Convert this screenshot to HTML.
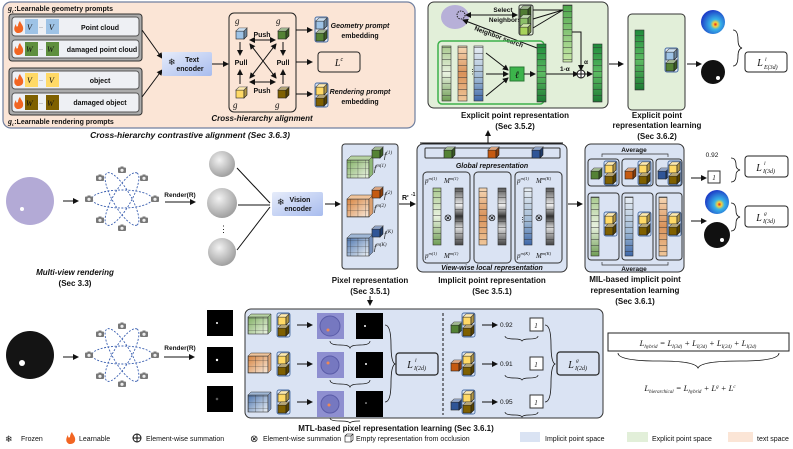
<!DOCTYPE html>
<html><head><meta charset="utf-8"><style>
html,body{margin:0;padding:0;background:#fff}
svg{display:block}
text{font-family:"Liberation Sans",sans-serif;fill:#111}
.b{font-weight:bold}
.c{text-anchor:middle}
.i{font-style:italic;font-family:"Liberation Serif",serif}
</style></head><body>
<svg width="793" height="449" viewBox="0 0 793 449" xmlns="http://www.w3.org/2000/svg">
<defs>
<marker id="ar" markerWidth="6" markerHeight="6" refX="5" refY="3" orient="auto"><path d="M0,0 L6,3 L0,6 Z" fill="#111"/></marker>
<marker id="ar2" markerWidth="6" markerHeight="6" refX="1" refY="3" orient="auto"><path d="M6,0 L0,3 L6,6 Z" fill="#111"/></marker>
<pattern id="seg" width="20" height="6" patternUnits="userSpaceOnUse"><line x1="0" y1="5.7" x2="20" y2="5.7" stroke="#333" stroke-width=".5"/></pattern>
<pattern id="grid" width="7.3" height="6" patternUnits="userSpaceOnUse"><path d="M0,0 V6 M0,0 H7.3" stroke="#333" stroke-width=".6" fill="none"/></pattern>
<linearGradient id="gG" x1="0" y1="0" x2="0" y2="1"><stop offset="0" stop-color="#a9c98f"/><stop offset=".5" stop-color="#e9f2e0"/><stop offset="1" stop-color="#6f9d55"/></linearGradient>
<linearGradient id="gDG" x1="0" y1="0" x2="0" y2="1"><stop offset="0" stop-color="#1e8a3a"/><stop offset=".5" stop-color="#5dbb63"/><stop offset="1" stop-color="#1c7a33"/></linearGradient>
<linearGradient id="gLG" x1="0" y1="0" x2="0" y2="1"><stop offset="0" stop-color="#4aa64a"/><stop offset="1" stop-color="#c9e8a8"/></linearGradient>
<linearGradient id="gO" x1="0" y1="0" x2="0" y2="1"><stop offset="0" stop-color="#f6d7b5"/><stop offset=".5" stop-color="#d9925a"/><stop offset="1" stop-color="#f0c79a"/></linearGradient>
<linearGradient id="gB" x1="0" y1="0" x2="0" y2="1"><stop offset="0" stop-color="#e8eef4"/><stop offset=".6" stop-color="#9db7d3"/><stop offset="1" stop-color="#3e67a8"/></linearGradient>
<linearGradient id="gK" x1="0" y1="0" x2="0" y2="1"><stop offset="0" stop-color="#555"/><stop offset=".3" stop-color="#eee"/><stop offset=".5" stop-color="#333"/><stop offset=".7" stop-color="#ddd"/><stop offset="1" stop-color="#444"/></linearGradient>
<linearGradient id="enc" x1="0" y1="0" x2="1" y2="1"><stop offset="0" stop-color="#e6ecfa"/><stop offset="1" stop-color="#a8bcee"/></linearGradient>
<linearGradient id="gridG" x1="0" y1="0" x2="1" y2="1"><stop offset="0" stop-color="#7fae62"/><stop offset="1" stop-color="#eef5e6"/></linearGradient>
<linearGradient id="gridO" x1="0" y1="0" x2="1" y2="1"><stop offset="0" stop-color="#d6833f"/><stop offset="1" stop-color="#f8eadc"/></linearGradient>
<linearGradient id="gridB" x1="0" y1="0" x2="1" y2="1"><stop offset="0" stop-color="#4c74ad"/><stop offset="1" stop-color="#eef2f6"/></linearGradient>
<radialGradient id="sph" cx=".4" cy=".35" r=".7"><stop offset="0" stop-color="#f2f2f2"/><stop offset="1" stop-color="#9a9a9a"/></radialGradient>
<radialGradient id="heat" cx=".6" cy=".6" r=".6"><stop offset="0" stop-color="#e02020"/><stop offset=".15" stop-color="#f7d23a"/><stop offset=".35" stop-color="#38b4e8"/><stop offset="1" stop-color="#1d3fc8"/></radialGradient>
<g id="cb"><rect x="0" y="3" width="8" height="8" stroke="#222" stroke-width=".6"/><polygon points="0,3 3,0 11,0 8,3" stroke="#222" stroke-width=".6"/><polygon points="8,3 11,0 11,8 8,11" stroke="#222" stroke-width=".6"/><polygon points="0,3 3,0 11,0 8,3" fill="#fff" fill-opacity=".45"/><polygon points="8,3 11,0 11,8 8,11" fill="#000" fill-opacity=".3"/></g>
<g id="flame"><path d="M3,12 C-1,10 0,6 2,3 C2,6 3,6 4,5 C4,3 5,1 6,0 C7,3 10,5 9,9 C8,12 5,12 3,12 Z" fill="#f26522"/></g>
<g id="cam"><rect x="-4" y="-2.5" width="8" height="5.5" rx="1" fill="#777"/><circle cx="0" cy="0.3" r="1.6" fill="#eee"/><rect x="-1.5" y="-3.5" width="3" height="1.5" fill="#777"/></g>
<g id="orb"><ellipse rx="30" ry="9" fill="none" stroke="#3a5fb0" stroke-dasharray="2,1.5" stroke-width=".9"/><ellipse rx="30" ry="9" transform="rotate(60)" fill="none" stroke="#3a5fb0" stroke-dasharray="2,1.5" stroke-width=".9"/><ellipse rx="30" ry="9" transform="rotate(-60)" fill="none" stroke="#3a5fb0" stroke-dasharray="2,1.5" stroke-width=".9"/>
<use href="#cam" x="0" y="-29"/><use href="#cam" x="0" y="29"/><use href="#cam" x="-33" y="0"/><use href="#cam" x="33" y="0"/><use href="#cam" x="-22" y="-21"/><use href="#cam" x="22" y="-21"/><use href="#cam" x="-22" y="21"/><use href="#cam" x="22" y="21"/></g>
<g id="pair"><rect x="0" y="0" width="13" height="24" rx="2" fill="#d9e3f3" stroke="#4a6fa5" stroke-width=".9"/><use href="#cb" x="1" y="1" fill="#ffd966"/><use href="#cb" x="1" y="12" fill="#7f6000"/></g>
</defs>

<!-- ================= TEXT SPACE PANEL ================= -->
<rect x="3" y="2" width="412" height="126" rx="8" fill="#fbe5d6" stroke="#6f7f9f" stroke-width="1.2"/>
<text x="8" y="11" font-size="7" class="b"><tspan class="i" font-size="8">g</tspan><tspan font-size="5" dy="2" class="i">c</tspan><tspan dy="-2">:Learnable geometry prompts</tspan></text>
<rect x="9" y="14" width="133" height="47" rx="3" fill="#ababab" stroke="#333"/>
<rect x="12" y="17" width="127" height="19" rx="3" fill="#eef0f4" stroke="#555"/>
<rect x="12" y="40" width="127" height="18" rx="3" fill="#eef0f4" stroke="#555"/>
<use href="#flame" x="14" y="21"/><use href="#flame" x="14" y="43"/>
<rect x="25" y="19" width="13" height="15" fill="#9ec3e6"/><rect x="46" y="19" width="13" height="15" fill="#9ec3e6"/>
<text x="27" y="30" class="i" font-size="8">V</text><text x="49" y="30" class="i" font-size="8">V</text><text x="39" y="29" font-size="6">··</text>
<text x="100" y="30" class="b c" font-size="7">Point cloud</text>
<rect x="25" y="42" width="13" height="14" fill="#5f8f3e"/><rect x="46" y="42" width="13" height="14" fill="#5f8f3e"/>
<text x="26" y="52" class="i" font-size="8">W</text><text x="47" y="52" class="i" font-size="8">W</text><text x="39" y="51" font-size="6">··</text>
<text x="102" y="52" class="b c" font-size="7">damaged point cloud</text>

<rect x="9" y="68" width="133" height="47" rx="3" fill="#ababab" stroke="#333"/>
<rect x="12" y="71" width="127" height="18" rx="3" fill="#eef0f4" stroke="#555"/>
<rect x="12" y="93" width="127" height="19" rx="3" fill="#eef0f4" stroke="#555"/>
<use href="#flame" x="14" y="74"/><use href="#flame" x="14" y="97"/>
<rect x="25" y="73" width="13" height="14" fill="#ffd966"/><rect x="46" y="73" width="13" height="14" fill="#ffd966"/>
<text x="27" y="83" class="i" font-size="8">V</text><text x="49" y="83" class="i" font-size="8">V</text><text x="39" y="82" font-size="6">··</text>
<text x="100" y="83" class="b c" font-size="7">object</text>
<rect x="25" y="95" width="13" height="15" fill="#7f6000"/><rect x="46" y="95" width="13" height="15" fill="#7f6000"/>
<text x="26" y="106" class="i" font-size="8">W</text><text x="47" y="106" class="i" font-size="8">W</text><text x="39" y="105" font-size="6">··</text>
<text x="100" y="105" class="b c" font-size="7">damaged object</text>
<text x="8" y="124" font-size="7" class="b"><tspan class="i" font-size="8">g</tspan><tspan font-size="5" dy="2" class="i">c</tspan><tspan dy="-2">:Learnable rendering prompts</tspan></text>

<line x1="142" y1="30" x2="162" y2="58" stroke="#111" marker-end="url(#ar)"/>
<line x1="142" y1="97" x2="162" y2="70" stroke="#111" marker-end="url(#ar)"/>
<rect x="162" y="52" width="50" height="24" rx="2" fill="url(#enc)"/>
<text x="168" y="65" font-size="9" fill="#2a8ad4">❄</text>
<text x="192" y="62" class="b c" font-size="7">Text</text><text x="190" y="71" class="b c" font-size="7">encoder</text>
<line x1="212" y1="64" x2="228" y2="64" stroke="#111" marker-end="url(#ar)"/>

<rect x="229" y="13" width="67" height="99" rx="5" fill="none" stroke="#222"/>
<text x="235" y="24" class="i" font-size="9">g</text><text x="276" y="24" class="i" font-size="9">g</text>
<use href="#cb" x="236" y="28" fill="#9ec3e6"/><use href="#cb" x="278" y="28" fill="#548235"/>
<line x1="250" y1="40" x2="275" y2="40" stroke="#111" marker-end="url(#ar)" marker-start="url(#ar2)"/>
<text x="262" y="37" class="b c" font-size="7">Push</text>
<line x1="240" y1="42" x2="240" y2="55" stroke="#111" marker-end="url(#ar)"/>
<line x1="283" y1="42" x2="283" y2="55" stroke="#111" marker-end="url(#ar)"/>
<text x="241" y="65" class="b c" font-size="7">Pull</text><text x="283" y="65" class="b c" font-size="7">Pull</text>
<line x1="250" y1="44" x2="276" y2="78" stroke="#111" marker-end="url(#ar)" marker-start="url(#ar2)"/>
<line x1="276" y1="44" x2="250" y2="78" stroke="#111" marker-end="url(#ar)" marker-start="url(#ar2)"/>
<line x1="240" y1="84" x2="240" y2="70" stroke="#111" marker-end="url(#ar)"/>
<line x1="283" y1="84" x2="283" y2="70" stroke="#111" marker-end="url(#ar)"/>
<line x1="250" y1="82" x2="275" y2="82" stroke="#111" marker-end="url(#ar)" marker-start="url(#ar2)"/>
<text x="262" y="93" class="b c" font-size="7">Push</text>
<use href="#cb" x="236" y="87" fill="#ffd966"/><use href="#cb" x="278" y="87" fill="#7f6000"/>
<text x="233" y="108" class="i" font-size="9">g</text><text x="275" y="108" class="i" font-size="9">g</text>
<text x="262" y="121" class="b c" font-size="8" font-style="italic">Cross-hierarchy alignment</text>

<line x1="296" y1="30" x2="312" y2="30" stroke="#111" marker-end="url(#ar)"/>
<line x1="296" y1="62" x2="312" y2="62" stroke="#111" marker-end="url(#ar)"/>
<line x1="296" y1="94" x2="312" y2="94" stroke="#111" marker-end="url(#ar)"/>
<rect x="315" y="17" width="13" height="25" rx="2" fill="#dfe7f4" stroke="#4a6fa5"/>
<use href="#cb" x="316" y="18" fill="#9ec3e6"/><use href="#cb" x="316" y="30" fill="#548235"/>
<text x="360" y="28" class="b c" font-size="7" font-style="italic">Geometry prompt</text><text x="360" y="38" class="b c" font-size="7">embedding</text>
<rect x="318" y="52" width="42" height="20" rx="3" fill="none" stroke="#222"/>
<text x="339" y="66" class="i c" font-size="10">L<tspan font-size="6" dy="-5">c</tspan></text>
<use href="#pair" x="315" y="83"/>
<text x="360" y="94" class="b c" font-size="7" font-style="italic">Rendering prompt</text><text x="360" y="104" class="b c" font-size="7">embedding</text>
<text x="190" y="138" class="b c" font-size="8.5" font-style="italic">Cross-hierarchy contrastive alignment (Sec 3.6.3)</text>

<!-- ================= EXPLICIT PANEL ================= -->
<rect x="428" y="2" width="180" height="106" rx="6" fill="#e2efd9" stroke="#333"/>
<ellipse cx="455" cy="17" rx="14" ry="12" fill="#b7b0d8"/>
<circle cx="461" cy="15" r="4" fill="none" stroke="#222" stroke-dasharray="1.5,1"/>
<line x1="466" y1="15" x2="517" y2="15" stroke="#111" marker-end="url(#ar)" marker-start="url(#ar2)"/>
<text x="503" y="12" class="b c" font-size="6.5">Select</text><text x="505" y="22" class="b c" font-size="6.5">Neighbors</text>
<rect x="519" y="5" width="14" height="30" rx="2" fill="#e2efd9" stroke="#333"/>
<use href="#cb" x="520" y="6" fill="#4f7c32"/><use href="#cb" x="520" y="15" fill="#8cc068"/><use href="#cb" x="520" y="24" fill="#a8d35a"/>
<path d="M533,10 L563,10 M533,19 L563,10 M533,28 L563,10" stroke="#111" fill="none"/>
<rect x="563" y="5" width="9" height="57" fill="url(#gLG)" stroke="#333" stroke-width=".6"/><rect x="563" y="5" width="9" height="57" fill="url(#seg)"/>
<text x="474" y="30" class="b" font-size="6.5" transform="rotate(20 474 30)">Neighbor search</text>
<line x1="537" y1="48" x2="463" y2="20" stroke="#111" marker-end="url(#ar)"/>
<rect x="438" y="41" width="106" height="63" rx="4" fill="none" stroke="#3cb04a" stroke-width="1.5"/>
<rect x="442" y="46" width="9" height="55" fill="url(#gG)" stroke="#333" stroke-width=".6"/><rect x="442" y="46" width="9" height="55" fill="url(#seg)"/>
<rect x="458" y="46" width="9" height="55" fill="url(#gO)" stroke="#333" stroke-width=".6"/><rect x="458" y="46" width="9" height="55" fill="url(#seg)"/>
<rect x="474" y="46" width="9" height="55" fill="url(#gB)" stroke="#333" stroke-width=".6"/><rect x="474" y="46" width="9" height="55" fill="url(#seg)"/>
<text x="469" y="74" font-size="7">⋮</text>
<line x1="486" y1="53" x2="508" y2="70" stroke="#111" marker-end="url(#ar)"/>
<line x1="486" y1="74" x2="508" y2="74" stroke="#111" marker-end="url(#ar)"/>
<line x1="486" y1="96" x2="508" y2="78" stroke="#111" marker-end="url(#ar)"/>
<rect x="510" y="67" width="14" height="14" fill="#3cb44b" stroke="#2a7a35"/>
<text x="517" y="78" class="i c" font-size="10">ℓ</text>
<line x1="524" y1="74" x2="535" y2="74" stroke="#111" marker-end="url(#ar)"/>
<rect x="537" y="44" width="9" height="58" fill="url(#gDG)" stroke="#333" stroke-width=".6"/><rect x="537" y="44" width="9" height="58" fill="url(#seg)"/>
<line x1="546" y1="74" x2="578" y2="74" stroke="#111" marker-end="url(#ar)"/>
<text x="560" y="71" class="b" font-size="6.5">1-α</text>
<path d="M572,32 H581 V70" stroke="#111" fill="none" marker-end="url(#ar)"/>
<text x="584" y="64" class="b" font-size="6.5">α</text>
<circle cx="581" cy="74" r="4" fill="#fff" stroke="#111"/><path d="M577,74 H585 M581,70 V78" stroke="#111"/>
<line x1="585" y1="74" x2="592" y2="74" stroke="#111" marker-end="url(#ar)"/>
<rect x="593" y="44" width="9" height="58" fill="url(#gDG)" stroke="#333" stroke-width=".6"/><rect x="593" y="44" width="9" height="58" fill="url(#seg)"/>
<text x="515" y="118" class="b c" font-size="8">Explicit point representation</text>
<text x="515" y="129" class="b c" font-size="8">(Sec 3.5.2)</text>
<line x1="488" y1="143" x2="488" y2="131" stroke="#111" marker-end="url(#ar)"/>
<line x1="420" y1="143" x2="563" y2="143" stroke="#111"/>

<line x1="609" y1="64" x2="623" y2="64" stroke="#111" marker-end="url(#ar)"/>
<rect x="628" y="14" width="57" height="96" rx="4" fill="#e2efd9" stroke="#333"/>
<rect x="635" y="30" width="9" height="60" fill="url(#gDG)" stroke="#333" stroke-width=".6"/><rect x="635" y="30" width="9" height="60" fill="url(#seg)"/>
<rect x="665" y="48" width="13" height="24" rx="2" fill="#dfe7f4" stroke="#4a6fa5"/>
<use href="#cb" x="666" y="49" fill="#9ec3e6"/><use href="#cb" x="666" y="60" fill="#548235"/>
<text x="657" y="118" class="b c" font-size="8">Explicit point</text>
<text x="657" y="128" class="b c" font-size="8">representation learning</text>
<text x="657" y="139" class="b c" font-size="8">(Sec 3.6.2)</text>
<line x1="687" y1="64" x2="701" y2="64" stroke="#111" marker-end="url(#ar)"/>
<circle cx="713" cy="22" r="12" fill="url(#heat)"/>
<circle cx="713" cy="72" r="12" fill="#111"/><circle cx="718" cy="78" r="2" fill="#fff"/>
<path d="M733,30 Q738,30 738,40 Q738,47 742,48 Q738,49 738,56 Q738,66 733,66" fill="none" stroke="#111" stroke-width=".8"/>
<rect x="745" y="52" width="42" height="20" rx="3" fill="#fff" stroke="#222"/>
<text x="760" y="66" class="i c" font-size="10">L</text><text x="765" y="61" class="i" font-size="5.5">l</text><text x="764" y="69" class="i" font-size="6">E(3d)</text>

<!-- ================= MIDDLE ROW ================= -->
<circle cx="30" cy="201" r="24" fill="#b3aad6"/><circle cx="22" cy="209" r="2" fill="#fff"/>
<line x1="63" y1="201" x2="78" y2="201" stroke="#111" marker-end="url(#ar)"/>
<use href="#orb" x="122" y="199"/>
<line x1="165" y1="202" x2="195" y2="202" stroke="#111" marker-end="url(#ar)"/>
<text x="180" y="197" class="b c" font-size="6.5">Render(R)</text>
<circle cx="222" cy="164" r="13" fill="url(#sph)"/>
<circle cx="222" cy="203" r="15" fill="url(#sph)"/>
<text x="219" y="232" font-size="9">⋮</text>
<circle cx="222" cy="252" r="14" fill="url(#sph)"/>
<line x1="237" y1="168" x2="270" y2="203" stroke="#111"/>
<line x1="238" y1="205" x2="270" y2="205" stroke="#111"/>
<line x1="237" y1="250" x2="270" y2="207" stroke="#111"/>
<rect x="272" y="192" width="51" height="24" rx="2" fill="url(#enc)"/>
<text x="277" y="205" font-size="9" fill="#2a8ad4">❄</text>
<text x="300" y="202" class="b c" font-size="7">Vision</text><text x="298" y="211" class="b c" font-size="7">encoder</text>
<line x1="325" y1="204" x2="340" y2="204" stroke="#111" marker-end="url(#ar)"/>
<text x="75" y="275" class="b c" font-size="8" font-style="italic">Multi-view rendering</text>
<text x="75" y="286" class="b c" font-size="8">(Sec 3.3)</text>

<rect x="342" y="144" width="56" height="125" rx="3" fill="#dae3f3" stroke="#333"/>
<rect x="347" y="160" width="22" height="18" fill="url(#gridG)" stroke="#333" stroke-width=".6"/><rect x="347" y="160" width="22" height="18" fill="url(#grid)"/><polygon points="347,160 351,156 373,156 369,160" fill="#b7d3a3" stroke="#333" stroke-width=".5"/><polygon points="369,160 373,156 373,174 369,178" fill="#8fb878" stroke="#333" stroke-width=".5"/>
<rect x="347" y="199" width="22" height="18" fill="url(#gridO)" stroke="#333" stroke-width=".6"/><rect x="347" y="199" width="22" height="18" fill="url(#grid)"/><polygon points="347,199 351,195 373,195 369,199" fill="#f0c49b" stroke="#333" stroke-width=".5"/><polygon points="369,199 373,195 373,213 369,217" fill="#dba070" stroke="#333" stroke-width=".5"/>
<rect x="347" y="238" width="22" height="18" fill="url(#gridB)" stroke="#333" stroke-width=".6"/><rect x="347" y="238" width="22" height="18" fill="url(#grid)"/><polygon points="347,238 351,234 373,234 369,238" fill="#9fb7d6" stroke="#333" stroke-width=".5"/><polygon points="369,238 373,234 373,252 369,256" fill="#7993bd" stroke="#333" stroke-width=".5"/>
<use href="#cb" x="372" y="147" fill="#548235"/><use href="#cb" x="372" y="187" fill="#c55a11"/><use href="#cb" x="372" y="226" fill="#2f5597"/>
<text x="384" y="158" class="i" font-size="8">f<tspan font-size="5" dy="-4">(1)</tspan></text>
<text x="374" y="171" class="i" font-size="8">f<tspan font-size="5" dy="-4">m(1)</tspan></text>
<text x="384" y="198" class="i" font-size="8">f<tspan font-size="5" dy="-4">(2)</tspan></text>
<text x="374" y="211" class="i" font-size="8">f<tspan font-size="5" dy="-4">m(2)</tspan></text>
<text x="384" y="237" class="i" font-size="8">f<tspan font-size="5" dy="-4">(K)</tspan></text>
<text x="374" y="250" class="i" font-size="8">f<tspan font-size="5" dy="-4">m(K)</tspan></text>
<text x="402" y="200" class="b" font-size="7">R'</text><text x="411" y="196" class="b" font-size="5">-1</text>
<line x1="399" y1="204" x2="415" y2="204" stroke="#111" marker-end="url(#ar)"/>
<text x="370" y="283" class="b c" font-size="8">Pixel representation</text>
<text x="370" y="294" class="b c" font-size="8">(Sec 3.5.1)</text>
<line x1="370" y1="296" x2="370" y2="305" stroke="#111" marker-end="url(#ar)"/>

<rect x="417" y="144" width="150" height="128" rx="6" fill="#dae3f3" stroke="#333"/>
<rect x="425" y="148" width="135" height="10" rx="1" fill="#dae3f3" stroke="#333"/>
<use href="#cb" x="444" y="147" fill="#548235"/><use href="#cb" x="488" y="147" fill="#c55a11"/><use href="#cb" x="532" y="147" fill="#2f5597"/>
<text x="492" y="168" class="b c" font-size="7" font-style="italic">Global representation</text>
<rect x="423" y="172" width="47" height="91" rx="4" fill="none" stroke="#333"/>
<rect x="474" y="172" width="37" height="91" rx="4" fill="none" stroke="#333"/>
<rect x="515" y="172" width="47" height="91" rx="4" fill="none" stroke="#333"/>
<rect x="433" y="188" width="8" height="57" fill="url(#gG)" stroke="#333" stroke-width=".6"/><rect x="433" y="188" width="8" height="57" fill="url(#seg)"/>
<rect x="455" y="188" width="8" height="57" fill="url(#gK)" stroke="#333" stroke-width=".6"/><rect x="455" y="188" width="8" height="57" fill="url(#seg)"/>
<rect x="479" y="188" width="8" height="57" fill="url(#gO)" stroke="#333" stroke-width=".6"/><rect x="479" y="188" width="8" height="57" fill="url(#seg)"/>
<rect x="498" y="188" width="8" height="57" fill="url(#gK)" stroke="#333" stroke-width=".6"/><rect x="498" y="188" width="8" height="57" fill="url(#seg)"/>
<rect x="524" y="188" width="8" height="57" fill="url(#gB)" stroke="#333" stroke-width=".6"/><rect x="524" y="188" width="8" height="57" fill="url(#seg)"/>
<rect x="546" y="188" width="8" height="57" fill="url(#gK)" stroke="#333" stroke-width=".6"/><rect x="546" y="188" width="8" height="57" fill="url(#seg)"/>
<text x="448" y="221" class="c" font-size="10">⊗</text><text x="492" y="221" class="c" font-size="10">⊗</text><text x="539" y="221" class="c" font-size="10">⊗</text>
<text x="519" y="222" font-size="7">⋮</text>
<text x="425" y="183" class="i" font-size="7">p<tspan font-size="4.5" dy="-3">m(1)</tspan></text><text x="444" y="183" class="i" font-size="7">M<tspan font-size="4.5" dy="-3">m(1)</tspan></text>
<text x="425" y="258" class="i" font-size="7">p<tspan font-size="4.5" dy="-3">m(1)</tspan></text><text x="444" y="258" class="i" font-size="7">M<tspan font-size="4.5" dy="-3">m(1)</tspan></text>
<text x="517" y="183" class="i" font-size="7">p<tspan font-size="4.5" dy="-3">m(1)</tspan></text><text x="536" y="183" class="i" font-size="7">M<tspan font-size="4.5" dy="-3">m(K)</tspan></text>
<text x="517" y="258" class="i" font-size="7">p<tspan font-size="4.5" dy="-3">m(K)</tspan></text><text x="536" y="258" class="i" font-size="7">M<tspan font-size="4.5" dy="-3">m(K)</tspan></text>
<text x="492" y="270" class="b c" font-size="7" font-style="italic">View-wise local representation</text>
<text x="492" y="283" class="b c" font-size="8">Implicit point representation</text>
<text x="492" y="294" class="b c" font-size="8">(Sec 3.5.1)</text>
<line x1="568" y1="204" x2="582" y2="204" stroke="#111" marker-end="url(#ar)"/>

<rect x="585" y="144" width="99" height="128" rx="6" fill="#dae3f3" stroke="#333"/>
<text x="634" y="152" class="b c" font-size="6.5">Average</text>
<path d="M602,157 V154 H668 V157" fill="none" stroke="#333" stroke-width=".7"/>
<rect x="588" y="159" width="31" height="27" rx="3" fill="none" stroke="#333"/>
<rect x="622" y="159" width="31" height="27" rx="3" fill="none" stroke="#333"/>
<rect x="656" y="159" width="26" height="27" rx="3" fill="none" stroke="#333"/>
<use href="#cb" x="591" y="168" fill="#548235"/><use href="#cb" x="625" y="168" fill="#c55a11"/><use href="#cb" x="658" y="168" fill="#2f5597"/>
<use href="#pair" x="604" y="161"/><use href="#pair" x="638" y="161"/><use href="#pair" x="668" y="161"/>
<rect x="588" y="193" width="31" height="67" rx="3" fill="none" stroke="#333"/>
<rect x="622" y="193" width="31" height="67" rx="3" fill="none" stroke="#333"/>
<rect x="656" y="193" width="26" height="67" rx="3" fill="none" stroke="#333"/>
<rect x="591" y="197" width="8" height="59" fill="url(#gG)" stroke="#333" stroke-width=".6"/><rect x="591" y="197" width="8" height="59" fill="url(#seg)"/>
<rect x="625" y="197" width="8" height="59" fill="url(#gB)" stroke="#333" stroke-width=".6"/><rect x="625" y="197" width="8" height="59" fill="url(#seg)"/>
<rect x="659" y="197" width="8" height="59" fill="url(#gO)" stroke="#333" stroke-width=".6"/><rect x="659" y="197" width="8" height="59" fill="url(#seg)"/>
<use href="#pair" x="604" y="212"/><use href="#pair" x="638" y="212"/><use href="#pair" x="668" y="212"/>
<path d="M602,262 V265 H668 V262" fill="none" stroke="#333" stroke-width=".7"/>
<text x="634" y="271" class="b c" font-size="6.5">Average</text>
<text x="635" y="282" class="b c" font-size="8">MIL-based implicit point</text>
<text x="635" y="293" class="b c" font-size="8">representation learning</text>
<text x="635" y="304" class="b c" font-size="8">(Sec 3.6.1)</text>

<text x="712" y="157" class="c" font-size="6.5" fill="#666">0.92</text>
<line x1="691" y1="178" x2="706" y2="178" stroke="#111" marker-end="url(#ar)"/>
<rect x="708" y="171" width="12" height="12" fill="#fff" stroke="#333"/><text x="714" y="180" class="c i" font-size="7">1</text>
<path d="M731,158 Q736,158 736,165 Q736,169 740,170 Q736,171 736,175 Q736,182 731,182" fill="none" stroke="#111" stroke-width=".8"/>
<rect x="745" y="156" width="43" height="21" rx="3" fill="#fff" stroke="#222"/>
<text x="759" y="171" class="i c" font-size="10">L</text><text x="764" y="165" class="i" font-size="5.5">l</text><text x="763" y="173" class="i" font-size="6">I(3d)</text>
<circle cx="717" cy="202" r="12" fill="url(#heat)"/>
<circle cx="717" cy="235" r="13" fill="#111"/><circle cx="722" cy="240" r="2" fill="#fff"/>
<line x1="691" y1="221" x2="706" y2="221" stroke="#111" marker-end="url(#ar)"/>
<path d="M731,203 Q736,203 736,211 Q736,216 740,217 Q736,218 736,223 Q736,231 731,231" fill="none" stroke="#111" stroke-width=".8"/>
<rect x="745" y="206" width="43" height="21" rx="3" fill="#fff" stroke="#222"/>
<text x="759" y="221" class="i c" font-size="10">L</text><text x="764" y="215" class="i" font-size="5.5">g</text><text x="763" y="223" class="i" font-size="6">I(3d)</text>

<!-- ================= BOTTOM ROW ================= -->
<circle cx="30" cy="355" r="24" fill="#141414"/><circle cx="22" cy="363" r="3" fill="#fff"/>
<line x1="63" y1="357" x2="78" y2="357" stroke="#111" marker-end="url(#ar)"/>
<use href="#orb" x="122" y="355"/>
<line x1="164" y1="357" x2="194" y2="357" stroke="#111" marker-end="url(#ar)"/>
<text x="180" y="350" class="b c" font-size="6.5">Render(R)</text>
<rect x="207" y="310" width="26" height="26" fill="#000"/><circle cx="217" cy="323" r="1" fill="#fff"/>
<rect x="207" y="347" width="26" height="26" fill="#000"/><circle cx="217" cy="360" r="1.2" fill="#fff"/>
<rect x="207" y="386" width="26" height="26" fill="#000"/><circle cx="217" cy="399" r="1" fill="none" stroke="#aaa" stroke-width=".5"/>

<rect x="245" y="309" width="358" height="109" rx="6" fill="#dae3f3" stroke="#333"/>
<g>
<rect x="248" y="317" width="20" height="17" fill="url(#gridG)" stroke="#333" stroke-width=".6"/><rect x="248" y="317" width="20" height="17" fill="url(#grid)"/><polygon points="248,317 251,314 271,314 268,317" fill="#b7d3a3" stroke="#333" stroke-width=".5"/><polygon points="268,317 271,314 271,331 268,334" fill="#8fb878" stroke="#333" stroke-width=".5"/>
<rect x="248" y="356" width="20" height="17" fill="url(#gridO)" stroke="#333" stroke-width=".6"/><rect x="248" y="356" width="20" height="17" fill="url(#grid)"/><polygon points="248,356 251,353 271,353 268,356" fill="#f0c49b" stroke="#333" stroke-width=".5"/><polygon points="268,356 271,353 271,370 268,373" fill="#dba070" stroke="#333" stroke-width=".5"/>
<rect x="248" y="395" width="20" height="17" fill="url(#gridB)" stroke="#333" stroke-width=".6"/><rect x="248" y="395" width="20" height="17" fill="url(#grid)"/><polygon points="248,395 251,392 271,392 268,395" fill="#9fb7d6" stroke="#333" stroke-width=".5"/><polygon points="268,395 271,392 271,409 268,412" fill="#7993bd" stroke="#333" stroke-width=".5"/>
</g>
<use href="#pair" x="277" y="313"/><use href="#pair" x="277" y="352"/><use href="#pair" x="277" y="390"/>
<line x1="297" y1="325" x2="312" y2="325" stroke="#111" marker-end="url(#ar)"/>
<line x1="297" y1="364" x2="312" y2="364" stroke="#111" marker-end="url(#ar)"/>
<line x1="297" y1="402" x2="312" y2="402" stroke="#111" marker-end="url(#ar)"/>
<rect x="317" y="313" width="27" height="26" fill="#8e8fd0"/><circle cx="330" cy="326" r="10" fill="#7678c0" stroke="#5a5ca8"/><circle cx="328" cy="330" r="1.5" fill="#e85"/>
<rect x="317" y="352" width="27" height="26" fill="#8e8fd0"/><circle cx="330" cy="365" r="9" fill="#7678c0" stroke="#5a5ca8"/><circle cx="328" cy="363" r="1.5" fill="#e85"/>
<rect x="317" y="391" width="27" height="26" fill="#8e8fd0"/><circle cx="330" cy="404" r="9" fill="#7678c0" stroke="#5a5ca8"/><circle cx="329" cy="405" r="1.5" fill="#e85"/>
<rect x="356" y="313" width="27" height="26" fill="#000"/><circle cx="365" cy="326" r="1" fill="#fff"/>
<rect x="356" y="352" width="27" height="26" fill="#000"/><circle cx="366" cy="364" r="1" fill="#fff"/>
<rect x="356" y="391" width="27" height="26" fill="#000"/><circle cx="366" cy="403" r=".8" fill="#ccc"/>
<path d="M330,341 Q330,345 340,345 Q349,345 350,348 Q351,345 360,345 Q370,345 370,341" fill="none" stroke="#111" stroke-width=".7"/>
<path d="M330,380 Q330,384 340,384 Q349,384 350,387 Q351,384 360,384 Q370,384 370,380" fill="none" stroke="#111" stroke-width=".7"/>
<path d="M330,418 Q330,421 340,421 Q349,421 350,423 Q351,421 360,421" fill="none" stroke="#111" stroke-width=".7"/>
<path d="M385,325 Q391,325 391,345 Q391,362 395,364 Q391,366 391,383 Q391,402 385,402" fill="none" stroke="#111" stroke-width=".8"/>
<rect x="396" y="353" width="42" height="22" rx="3" fill="none" stroke="#222" stroke-width="1.2"/>
<text x="410" y="368" class="i c" font-size="10">L</text><text x="415" y="362" class="i" font-size="5.5">l</text><text x="414" y="370" class="i" font-size="6">I(2d)</text>
<line x1="443" y1="313" x2="443" y2="415" stroke="#111" stroke-dasharray="3,2"/>
<use href="#cb" x="451" y="322" fill="#548235"/><use href="#cb" x="451" y="360" fill="#c55a11"/><use href="#cb" x="451" y="399" fill="#2f5597"/>
<use href="#pair" x="462" y="313"/><use href="#pair" x="462" y="352"/><use href="#pair" x="462" y="390"/>
<line x1="482" y1="325" x2="497" y2="325" stroke="#111" marker-end="url(#ar)"/>
<line x1="482" y1="364" x2="497" y2="364" stroke="#111" marker-end="url(#ar)"/>
<line x1="482" y1="402" x2="497" y2="402" stroke="#111" marker-end="url(#ar)"/>
<text x="500" y="327" font-size="6.5" fill="#555">0.92</text><text x="500" y="366" font-size="6.5" fill="#555">0.91</text><text x="500" y="404" font-size="6.5" fill="#555">0.95</text>
<rect x="530" y="318" width="13" height="13" fill="#fff" stroke="#333"/><text x="536" y="328" class="c i" font-size="7">1</text>
<rect x="530" y="357" width="13" height="13" fill="#fff" stroke="#333"/><text x="536" y="367" class="c i" font-size="7">1</text>
<rect x="530" y="395" width="13" height="13" fill="#fff" stroke="#333"/><text x="536" y="405" class="c i" font-size="7">1</text>
<path d="M505,336 Q505,339 515,339 Q521,339 522,341 Q523,339 529,339 Q538,339 538,336" fill="none" stroke="#111" stroke-width=".7"/>
<path d="M505,375 Q505,378 515,378 Q521,378 522,380 Q523,378 529,378 Q538,378 538,375" fill="none" stroke="#111" stroke-width=".7"/>
<path d="M505,412 Q505,415 515,415 Q521,415 522,417 Q523,415 529,415 Q538,415 538,412" fill="none" stroke="#111" stroke-width=".7"/>
<path d="M545,325 Q551,325 551,345 Q551,362 555,364 Q551,366 551,383 Q551,402 545,402" fill="none" stroke="#111" stroke-width=".8"/>
<rect x="557" y="352" width="42" height="23" rx="3" fill="none" stroke="#222" stroke-width="1.2"/>
<text x="571" y="368" class="i c" font-size="10">L</text><text x="576" y="362" class="i" font-size="5.5">g</text><text x="575" y="370" class="i" font-size="6">I(2d)</text>
<text x="396" y="431" class="b c" font-size="8">MTL-based pixel representation learning (Sec 3.6.1)</text>

<!-- formulas -->
<rect x="608" y="333" width="181" height="18" fill="#fff" stroke="#222"/>
<text x="698" y="346" class="i c" font-size="8.5">L<tspan font-size="5" dy="2">hybrid</tspan><tspan dy="-2"> = L</tspan><tspan font-size="5" dy="2">I(3d)</tspan><tspan dy="-2"> + L</tspan><tspan font-size="5" dy="2">I(3d)</tspan><tspan dy="-2"> + L</tspan><tspan font-size="5" dy="2">I(2d)</tspan><tspan dy="-2"> + L</tspan><tspan font-size="5" dy="2">I(2d)</tspan></text>
<path d="M618,353 Q618,361 660,361 Q695,361 698,368 Q701,361 740,361 Q779,361 779,353" fill="none" stroke="#111" stroke-width=".8"/>
<text x="690" y="391" class="i c" font-size="8.5">L<tspan font-size="5" dy="2">hierarchical</tspan><tspan dy="-2"> = L</tspan><tspan font-size="5" dy="2">hybrid</tspan><tspan dy="-2"> + L</tspan><tspan font-size="5" dy="-3">g</tspan><tspan dy="3"> + L</tspan><tspan font-size="5" dy="-3">c</tspan></text>

<!-- legend -->
<text x="5" y="442" font-size="9" fill="#2a8ad4">❄</text><text x="21" y="441" font-size="7">Frozen</text>
<use href="#flame" x="66" y="432"/><text x="79" y="441" font-size="7">Learnable</text>
<circle cx="137" cy="438" r="4" fill="none" stroke="#111"/><path d="M133,438 H141 M137,434 V442" stroke="#111"/>
<text x="146" y="441" font-size="7">Element-wise summation</text>
<text x="250" y="442" font-size="10">⊗</text>
<text x="263" y="441" font-size="7">Element-wise summation</text>
<g transform="translate(345,434)"><rect x="0" y="2" width="6" height="6" fill="#fff" stroke="#111" stroke-width=".6"/><path d="M0,2 L2,0 H8 V6 L6,8 M6,2 L8,0" fill="none" stroke="#111" stroke-width=".6"/></g>
<text x="356" y="441" font-size="7">Empty representation from occlusion</text>
<rect x="520" y="432" width="20" height="10" fill="#dae3f3"/><text x="545" y="441" font-size="7">Implicit point space</text>
<rect x="627" y="432" width="21" height="10" fill="#e2efd9"/><text x="652" y="441" font-size="7">Explicit point space</text>
<rect x="728" y="432" width="25" height="10" fill="#fbe5d6"/><text x="757" y="441" font-size="7">text space</text>
</svg>
</body></html>
